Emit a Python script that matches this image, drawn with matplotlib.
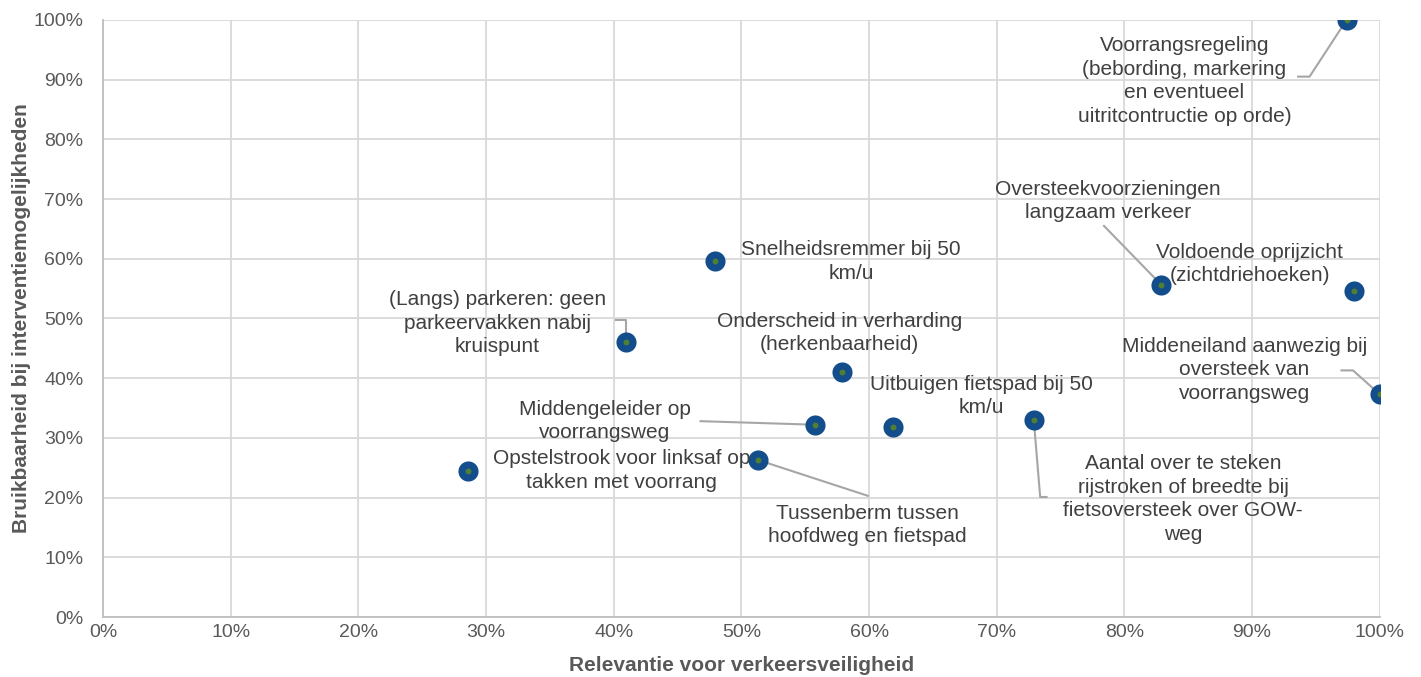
import matplotlib.pyplot as plt
from matplotlib.ticker import PercentFormatter

plt.rcParams['font.family'] = ['Liberation Sans', 'DejaVu Sans']

# data (fractions)
labels = [
    'Opstelstrook voor linksaf op\ntakken met voorrang',
    'Snelheidsremmer bij 50\nkm/u',
    '(Langs) parkeren: geen\nparkeervakken nabij\nkruispunt',
    'Onderscheid in verharding\n(herkenbaarheid)',
    'Middengeleider op\nvoorrangsweg',
    'Uitbuigen fietspad bij 50\nkm/u',
    'Tussenberm tussen\nhoofdweg en fietspad',
    'Aantal over te steken\nrijstroken of breedte bij\nfietsoversteek over GOW-\nweg',
    'Oversteekvoorzieningen\nlangzaam verkeer',
    'Voldoende oprijzicht\n(zichtdriehoeken)',
    'Middeneiland aanwezig bij\noversteek van\nvoorrangsweg',
    'Voorrangsregeling\n(bebording, markering\nen eventueel\nuitritcontructie op orde)',
]
relevantie = [0.286, 0.479, 0.410, 0.579, 0.558, 0.619, 0.513, 0.729, 0.829, 0.980, 1.000, 0.974]
bruikbaarheid = [0.245, 0.597, 0.461, 0.411, 0.322, 0.318, 0.263, 0.330, 0.556, 0.546, 0.373, 1.000]

# label centres (data units)
label_x = [0.406, 0.586, 0.309, 0.577, 0.393, 0.688, 0.599, 0.846, 0.787, 0.898, 0.894, 0.847]
label_y = [0.245, 0.595, 0.492, 0.476, 0.328, 0.370, 0.154, 0.198, 0.697, 0.591, 0.414, 0.898]
# leader lines: points from the label towards the marker
leaders = {
    2: [(0.402, 0.497), (0.410, 0.497)],
    4: [(0.468, 0.328)],
    6: [(0.599, 0.203)],
    7: [(0.739, 0.201), (0.734, 0.201)],
    8: [(0.784, 0.655)],
    10: [(0.970, 0.413), (0.979, 0.413)],
    11: [(0.936, 0.905), (0.945, 0.905)],
}

fig = plt.figure(figsize=(14.21, 6.77), dpi=100)
ax = fig.add_axes([0.0725, 0.0886, 0.8985, 0.882])

for i, pts in leaders.items():
    xs = [p[0] for p in pts] + [relevantie[i]]
    ys = [p[1] for p in pts] + [bruikbaarheid[i]]
    ax.plot(xs, ys, color='#A6A6A6', lw=1.5, zorder=2)

ax.scatter(relevantie, bruikbaarheid, s=210, color='#134D8B', zorder=3, linewidths=0)
ax.scatter(relevantie, bruikbaarheid, s=18, color='#4F7F35', zorder=4, linewidths=0)

for i, t in enumerate(labels):
    ax.text(label_x[i], label_y[i], t, ha='center', va='center', fontsize=15,
            color='#404040', linespacing=1.3, zorder=5)

ax.set_xlim(0, 1)
ax.set_ylim(0, 1)
ax.set_xticks([i / 10 for i in range(11)])
ax.set_yticks([i / 10 for i in range(11)])
ax.xaxis.set_major_formatter(PercentFormatter(1.0, decimals=0))
ax.yaxis.set_major_formatter(PercentFormatter(1.0, decimals=0))
ax.tick_params(length=0, labelsize=14, labelcolor='#595959')
ax.tick_params(axis='y', pad=14)
ax.tick_params(axis='x', pad=5)
ax.grid(True, color='#D9D9D9', lw=1.3)
ax.set_axisbelow(True)
for s in ['top', 'right']:
    ax.spines[s].set_visible(False)
for s in ['left', 'bottom']:
    ax.spines[s].set_color('#BFBFBF')
    ax.spines[s].set_linewidth(1.3)

ax.set_xlabel('Relevantie voor verkeersveiligheid', fontsize=15, fontweight='bold',
              color='#595959', labelpad=11)
ax.set_ylabel('Bruikbaarheid bij interventiemogelijkheden', fontsize=15, fontweight='bold',
              color='#595959', labelpad=2)

fig.savefig('out.png', dpi=100)
